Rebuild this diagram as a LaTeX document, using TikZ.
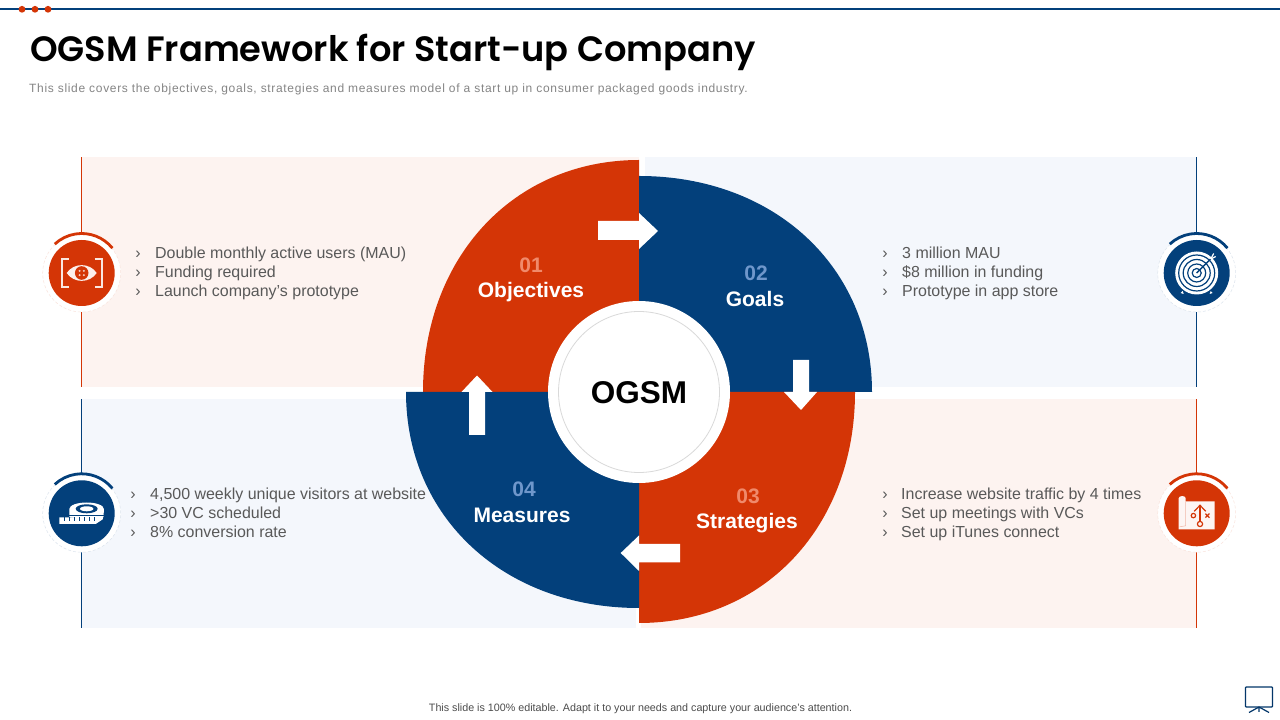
\documentclass[tikz,border=0pt]{standalone}
\usepackage{fontspec}
\setmainfont{Liberation Sans}
\newfontfamily\titlefont{Poppins SemiBold}
\newfontfamily\subfont[LetterSpace=5.6]{Liberation Sans}
\definecolor{navy}{HTML}{03407B}
\definecolor{org}{HTML}{D43506}
\definecolor{pnkbg}{HTML}{FDF3F0}
\definecolor{blubg}{HTML}{F4F7FC}
\definecolor{txt}{HTML}{595959}
\definecolor{num1}{HTML}{F08A6B}
\definecolor{num2}{HTML}{6F97CB}
\tikzset{
  x=1pt,y=1pt,
  bodytxt/.style={anchor=base west,inner sep=0pt,text=txt,font=\fontsize{15.96}{19}\selectfont},
  chev/.style={anchor=base,inner sep=0pt,text=txt,font=\fontsize{16}{19}\selectfont},
  numlab/.style={inner sep=0pt,font=\fontsize{21}{24}\selectfont\bfseries},
  seclab/.style={inner sep=0pt,text=white,font=\fontsize{21}{24}\selectfont\bfseries},
  whitearrow/.style={fill=white,draw=none},
}
\usetikzlibrary{calc}
% \iconbase{x}{y}{colour}
\newcommand{\iconbase}[3]{%
  \fill[white] (#1,#2) circle[radius=39pt];
  \draw[#3!14,densely dashed,line width=0.5pt] (#1,#2) circle[radius=39pt];
  \fill[#3] (#1,#2) circle[radius=33pt];
  \draw[#3,line width=2.8pt] ($(#1,#2)+(39:39.5pt)$) arc[start angle=39,end angle=133,radius=39.5pt];
}
\begin{document}
\begin{tikzpicture}
\useasboundingbox (0,0) rectangle (1280,720);
\fill[white] (0,0) rectangle (1280,720);
% top rule
\draw[navy,line width=2pt] (0,711) -- (1280,711);
\foreach \dx in {22,35,48} \fill[org] (\dx,710.7) circle[radius=3.4pt];
% title
\node[anchor=base west,inner sep=0pt,font=\fontsize{35.2}{40}\selectfont\titlefont] (title) at (30,658) {OGSM Framework for Start-up Company};
\node[anchor=base west,inner sep=0pt,text=black!48,font=\fontsize{12}{14}\selectfont\subfont] (subtitle) at (29,627) {This slide covers the objectives, goals, strategies and measures model of a start up in consumer packaged goods industry.};
% panels
\fill[pnkbg] (81,333) rectangle (639,563);
\fill[blubg] (645,333) rectangle (1196.5,563);
\fill[blubg] (81,92) rectangle (636,321);
\fill[pnkbg] (641,92) rectangle (1196.5,321);
% side rules
\draw[org,line width=1pt] (81.5,333) -- (81.5,563);
\draw[navy,line width=1pt] (81.5,92) -- (81.5,321);
\draw[navy,line width=1pt] (1196.5,333) -- (1196.5,563);
\draw[org,line width=1pt] (1196.5,92) -- (1196.5,321);
% sectors (slightly fuller than an ellipse: control factor 0.58)
\fill[org] (423,328) .. controls (423,462.6) and (513.7,560) .. (639,560) -- (639,328) -- cycle;
\fill[navy] (639,544) .. controls (774.1,544) and (872,453.3) .. (872,328) -- (639,328) -- cycle;
\fill[org] (855,328) .. controls (855,194) and (764.3,97) .. (639,97) -- (639,328) -- cycle;
\fill[navy] (639,112) .. controls (503.9,112) and (406,202.7) .. (406,328) -- (639,328) -- cycle;
% centre
\fill[white] (639,328) circle[radius=91pt];
\draw[black!15,line width=0.8pt] (639,328) circle[radius=80.5pt];
\node[inner sep=0pt,font=\fontsize{31.5}{36}\selectfont\bfseries] (centre) at (639,327) {OGSM};
% arrows
\fill[whitearrow] (598,499) -- (639,499) -- (639,507) -- (658,489) -- (639,471) -- (639,480) -- (598,480) -- cycle;
\fill[whitearrow] (793,360) -- (809,360) -- (809,328) -- (817,328) -- (801,310) -- (784,328) -- (793,328) -- cycle;
\fill[whitearrow] (680,176) -- (639,176) -- (639,184.5) -- (620.7,167) -- (639,149) -- (639,157.5) -- (680,157.5) -- cycle;
\fill[whitearrow] (469,285) -- (485,285) -- (485,328) -- (492.5,328) -- (477,344.5) -- (461.5,328) -- (469,328) -- cycle;
% section labels
\node[numlab,text=num1] (n1) at (531,455) {01};
\node[seclab] (l1) at (531,427.5) {Objectives};
\node[numlab,text=num2] (n2) at (756,447) {02};
\node[seclab] (l2) at (755,421) {Goals};
\node[numlab,text=num1] (n3) at (748,224) {03};
\node[seclab] (l3) at (747,196.5) {Strategies};
\node[numlab,text=num2] (n4) at (524,231) {04};
\node[seclab] (l4) at (522,205) {Measures};
% text TL
\node[chev] (c11) at (138,461.5) {›};
\node[chev] (c12) at (138,442.5) {›};
\node[chev] (c13) at (138,423.5) {›};
\node[bodytxt] (t11) at (155,461.5) {Double monthly active users (MAU)};
\node[bodytxt] (t12) at (155,442.5) {Funding required};
\node[bodytxt] (t13) at (155,423.5) {Launch company’s prototype};
% text TR
\node[chev] (c21) at (885,461.5) {›};
\node[chev] (c22) at (885,442.5) {›};
\node[chev] (c23) at (885,423.5) {›};
\node[bodytxt] (t21) at (902,461.5) {3 million MAU};
\node[bodytxt] (t22) at (902,442.5) {\$8 million in funding};
\node[bodytxt] (t23) at (902,423.5) {Prototype in app store};
% text BL
\node[chev] (c41) at (133,220.5) {›};
\node[chev] (c42) at (133,201.5) {›};
\node[chev] (c43) at (133,182.5) {›};
\node[bodytxt] (t41) at (150,220.5) {4,500 weekly unique visitors at website};
\node[bodytxt] (t42) at (150,201.5) {>30 VC scheduled};
\node[bodytxt] (t43) at (150,182.5) {8\% conversion rate};
% text BR
\node[chev] (c31) at (885,220.5) {›};
\node[chev] (c32) at (885,201.5) {›};
\node[chev] (c33) at (885,182.5) {›};
\node[bodytxt] (t31) at (901,220.5) {Increase website traffic by 4 times};
\node[bodytxt] (t32) at (901,201.5) {Set up meetings with VCs};
\node[bodytxt] (t33) at (901,182.5) {Set up iTunes connect};
% icon: eye
\iconbase{81.7}{447}{org}
\begin{scope}[shift={(81.7,447)}]
  \draw[white!88!org,line width=1.8pt] (-13,14) -- (-20,14) -- (-20,-14) -- (-13,-14);
  \draw[white!88!org,line width=1.8pt] (13,14) -- (20,14) -- (20,-14) -- (13,-14);
  \fill[white!92!org] (-15,0) .. controls (-8,10.5) and (8,10.5) .. (15,0) .. controls (8,-10.5) and (-8,-10.5) .. (-15,0) -- cycle;
  \fill[org] (0,0) circle[radius=6.8pt];
  \foreach \a in {45,135,225,315} \fill[white!75!org] (\a:3pt) circle[radius=1.1pt];
\end{scope}
% icon: target
\iconbase{1196.7}{447}{navy}
\begin{scope}[shift={(1196.7,447)}]
  \fill[white] (0,0) circle[radius=21.5pt];
  \draw[navy,line width=1.2pt] (0,0) circle[radius=18pt];
  \draw[navy,line width=1.2pt] (0,0) circle[radius=13.5pt];
  \draw[navy,line width=1.2pt] (0,0) circle[radius=9pt];
  \draw[navy,line width=1.2pt] (0,0) circle[radius=4.5pt];
  \draw[navy,line width=1.4pt] (0,0) -- (14,14);
  \draw[white,line width=1.2pt] (14,14) -- (17,19.5);
  \draw[white,line width=1.2pt] (14,14) -- (19,16.5);
  \fill[white] (-14,-18) -- (-13,-21) -- (-16,-20) -- cycle;
  \fill[white] (14,-18) -- (13,-21) -- (16,-20) -- cycle;
\end{scope}
% icon: tape
\iconbase{81.7}{206.7}{navy}
\begin{scope}[shift={(81.7,206.7)}]
  \fill[white] (-12.3,4.5) arc[start angle=180,end angle=0,x radius=17.2pt,y radius=6.3pt] -- (22,-3) -- (17,-7) -- (-12.3,-4) -- cycle;
  \fill[navy] (5,4.5) ellipse[x radius=11pt,y radius=4.5pt];
  \fill[white] (5,4.5) ellipse[x radius=6.7pt,y radius=2.5pt];
  \fill[white] (-22.3,-4) -- (-12,-4) -- (14,-4) -- (21.7,-2.5) -- (21,-6) -- (14,-10.7) -- (-22.3,-10.7) -- cycle;
  \draw[navy,line width=0.7pt] (-12.3,-2) -- (22,-2);
  \foreach \tx in {-17,-12,-7,-2,3,8,13} \draw[navy,line width=0.9pt] (\tx,-4) -- (\tx,-7.5);
\end{scope}
% icon: map
\iconbase{1196.7}{206.7}{org}
\begin{scope}[shift={(1196.7,206.7)}]
  \fill[white!95!org] (-18,-16) -- (-18,15) .. controls (-18,18) and (-11,18) .. (-11,15) -- (-11,12) -- (18,12) -- (18,-16) -- cycle;
  \draw[org!35!white,line width=0.5pt] (-11,12) -- (-11,-12.5) -- (-17,-13.5);
  \draw[org,line width=1.2pt] (3.3,-8) -- (3.3,7.5);
  \draw[org,line width=1.2pt] (-2.5,2) -- (3.3,8) -- (9,2);
  \draw[org,line width=1.2pt] (3.3,-10.7) circle[radius=2.6pt];
  \draw[org,line width=1.2pt] (-3.3,-2.3) circle[radius=2.2pt];
  \draw[org,line width=1.3pt] (8.7,-4.3) -- (12.7,-0.3) (8.7,-0.3) -- (12.7,-4.3);
\end{scope}
% footer
\node[anchor=base,inner sep=0pt,text=black!70,font=\fontsize{10.73}{12}\selectfont] (footer) at (640.5,8.5) {This slide is 100\% editable. Adapt it to your needs and capture your audience's attention.};
% presentation icon
\draw[navy!85!black,line width=1.3pt,rounded corners=0.8pt] (1245.5,33) rectangle (1272.5,13);
\draw[navy!85!black,line width=1.2pt] (1259,13) -- (1259,8) (1259,13) -- (1249,7.5) (1259,13) -- (1269,7.5);
\end{tikzpicture}
\end{document}
